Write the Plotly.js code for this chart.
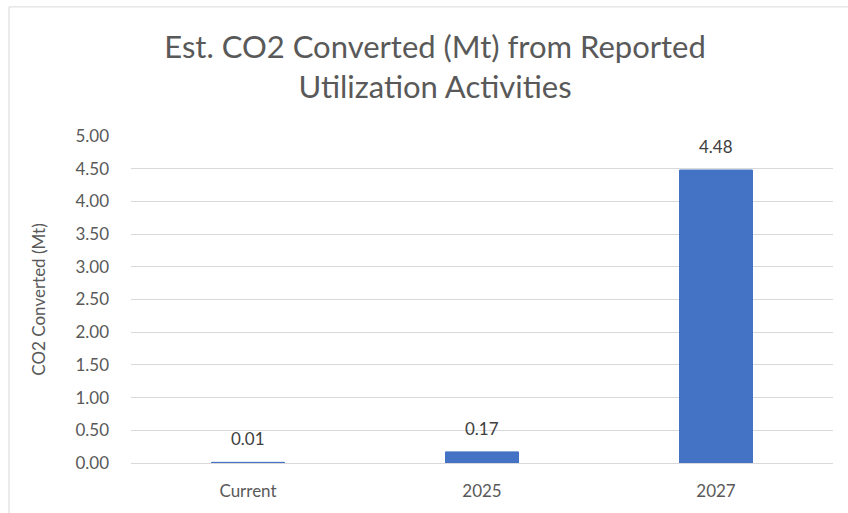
<!DOCTYPE html>
<html>
<head>
<meta charset="utf-8">
<script src="https://cdn.plot.ly/plotly-3.0.1.min.js"></script>
<style>html,body{margin:0;padding:0;background:#fff;}#chart{width:848px;height:513px;}</style>
</head>
<body>
<div id="chart"></div>
<script>
const categories = ["Current", "2025", "2027"];
const co2Converted = [0.01, 0.17, 4.48];
const valueLabels = ["0.01", "0.17", "4.48"];
const yTickValues = [0, 0.5, 1, 1.5, 2, 2.5, 3, 3.5, 4, 4.5, 5];
const yTickLabels = ["0.00", "0.50", "1.00", "1.50", "2.00", "2.50", "3.00", "3.50", "4.00", "4.50", "5.00"];

const FONT = "Lato, 'Open Sans', sans-serif";
const GREY = "#595959";

const trace = {
  type: "bar",
  x: categories,
  y: co2Converted,
  marker: {color: "#4472c4", line: {color: "#4472c4", width: 1}},
  hoverinfo: "x+y"
};

const annotations = categories.map((c, i) => ({
  x: i, y: co2Converted[i], xref: "x", yref: "y",
  text: valueLabels[i], showarrow: false,
  yanchor: "bottom", yshift: 11,
  font: {family: FONT, size: 17, color: "#404040"}
}));

const layout = {
  width: 848, height: 513,
  margin: {l: 131, r: 15, t: 136, b: 50, pad: 0},
  paper_bgcolor: "#ffffff", plot_bgcolor: "#ffffff",
  showlegend: false,
  bargap: 0.688,
  title: {
    text: "Est. CO2 Converted (Mt) from Reported<br>Utilization Activities",
    font: {family: FONT, size: 31, color: GREY},
    x: 0.513, xanchor: "center", y: 0.887, yanchor: "top"
  },
  xaxis: {
    type: "category",
    categoryorder: "array", categoryarray: categories,
    range: [-0.5, 2.5],
    showgrid: false, zeroline: false,
    showline: true, linecolor: "#d9d9d9", linewidth: 1,
    ticks: "", ticklabelstandoff: 13,
    tickfont: {family: FONT, size: 17, color: GREY}
  },
  yaxis: {
    range: [0, 5],
    tickmode: "array", tickvals: yTickValues, ticktext: yTickLabels,
    showgrid: true, gridcolor: "#d9d9d9", gridwidth: 1,
    zeroline: false, showline: false,
    ticks: "", ticklabelstandoff: 21,
    tickfont: {family: FONT, size: 17, color: GREY},
    title: {text: "CO2 Converted (Mt)", font: {family: FONT, size: 17, color: GREY}, standoff: 25}
  },
  annotations: annotations,
  shapes: [{
    type: "rect", xref: "paper", yref: "paper",
    x0: -0.1738, x1: 1.05, y0: -0.3, y1: 1.3948,
    line: {color: "#d9d9d9", width: 1}, fillcolor: "rgba(0,0,0,0)", layer: "below"
  }]
};

Plotly.newPlot("chart", [trace], layout, {displayModeBar: false, staticPlot: true});
</script>
</body>
</html>
